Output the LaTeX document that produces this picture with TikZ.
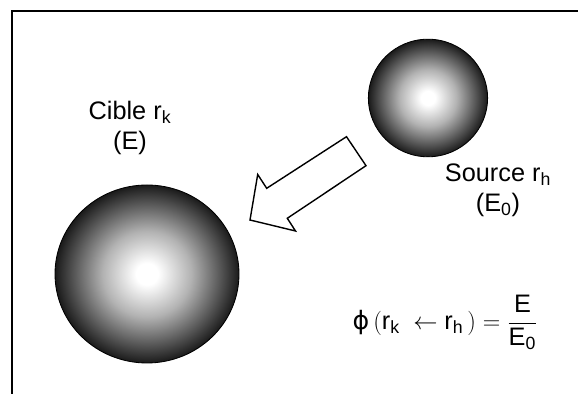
\documentclass[tikz,border=0pt]{standalone}
\usepackage{amsmath}
\usepackage{fontspec}
\setmainfont{Liberation Sans}
\newfontfamily\greekfont{DejaVu Sans}
\pgfdeclareradialshading{sphereshade}{\pgfpoint{0bp}{0bp}}{%
  color(0bp)=(white); color(3bp)=(white); color(12bp)=(black!30);
  color(19bp)=(black!62); color(24bp)=(black!85); color(25bp)=(black!90);
  color(50bp)=(black!90)}

\begin{document}
\begin{tikzpicture}[font=\fontsize{18}{21.5}\selectfont,
  sphere/.style={shading=sphereshade},
  rim/.style={line width=0.6pt},
  tag/.style={align=center}]
  \useasboundingbox (0,0) rectangle (14.45,9.85);
  % Frame
  \draw[line width=1.2pt] (0.3,0) -- (0.3,9.575) -- (14.45,9.575);
  % Target sphere
  \shade[sphere] (3.675,3.0) ellipse (2.3 and 2.225);
  \draw[rim] (3.675,3.0) ellipse (2.3 and 2.225);
  \node[tag] (cible) at (3.25,6.65) {Cible r\textsubscript{k}\\(E)};
  % Source sphere
  \shade[sphere] (10.7,7.4) ellipse (1.49 and 1.47);
  \draw[rim] (10.7,7.4) ellipse (1.49 and 1.47);
  \node[tag] (source) at (12.45,5.1) {Source r\textsubscript{h}\\(E\textsubscript{0})};
  % Block arrow
  \draw[line width=1pt, fill=white] (8.6625,6.4325) -- (9.15,5.7075) -- (7.1825,4.3925)
    -- (7.3875,4.075) -- (6.25,4.35) -- (6.4425,5.4875) -- (6.6675,5.1425) -- cycle;
  % Transfer fraction
  \node (formula) at (11.13,1.78)
    {$\text{\greekfont ϕ}\left(\text{r}_{\text{k}}\; \leftarrow \text{r}_{\text{h}}\,\right)
      = \dfrac{\text{E}}{\text{E}_{\text{0}}}$};
\end{tikzpicture}
\end{document}
